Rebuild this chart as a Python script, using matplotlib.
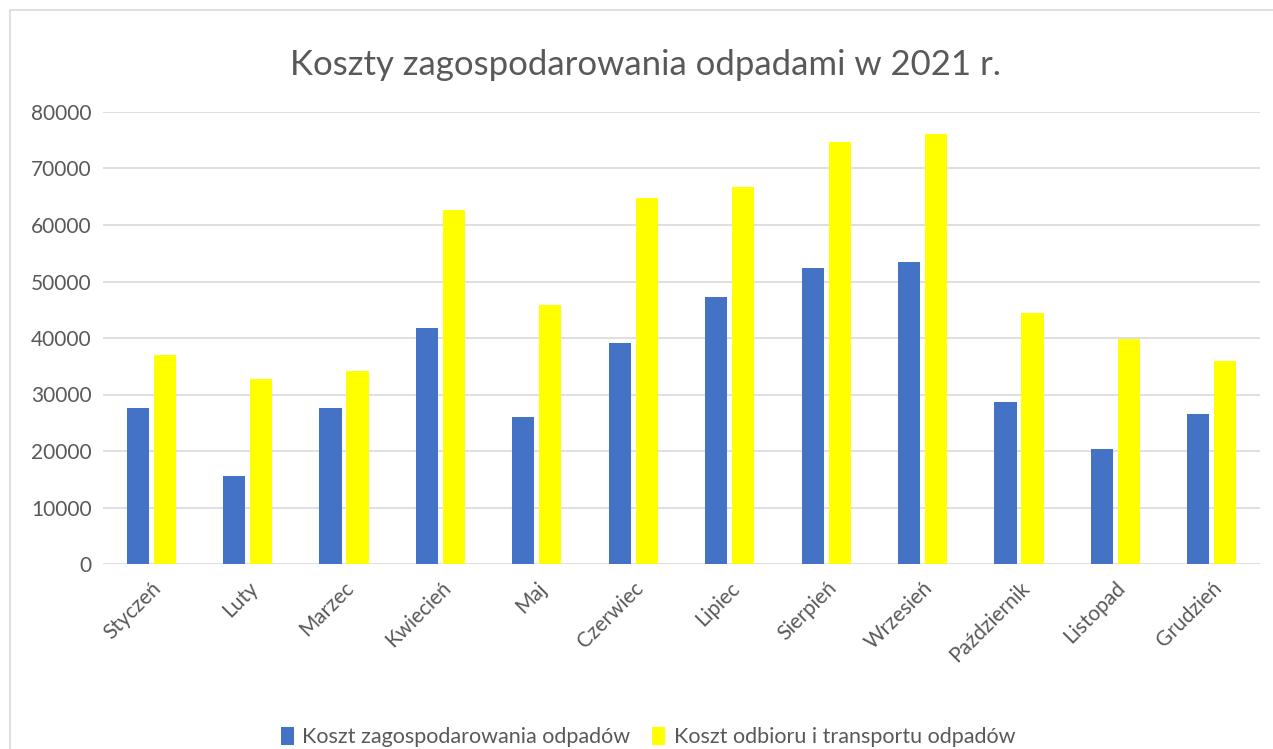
import matplotlib.pyplot as plt
import numpy as np
from matplotlib.patches import Rectangle

# Dane
miesiace = ['Styczeń', 'Luty', 'Marzec', 'Kwiecień', 'Maj', 'Czerwiec', 'Lipiec',
            'Sierpień', 'Wrzesień', 'Październik', 'Listopad', 'Grudzień']
zagospodarowanie = [27550, 15520, 27550, 41710, 25960, 39060, 47200,
                    52330, 53390, 28610, 20290, 26490]
odbior_transport = [36930, 32680, 34100, 62600, 45780, 64720, 66670,
                    74630, 76050, 44370, 39760, 35870]
seria = ['Koszt zagospodarowania odpadów', 'Koszt odbioru i transportu odpadów']

plt.rcParams['font.family'] = ['Lato', 'DejaVu Sans']
szary = '#595959'

fig = plt.figure(figsize=(12.73, 7.49), dpi=100)
W, H = 1273, 749
ax = fig.add_axes([103 / W, 1 - 564 / H, (1260 - 103) / W, (564 - 112) / H])

# ramka wykresu
fig.patches.append(Rectangle((10 / W, -0.1), 1.1, 1 - 10 / H + 0.1,
                             transform=fig.transFigure, fill=False,
                             edgecolor='#d9d9d9', linewidth=1.2))

x = np.arange(len(miesiace))
szer = 0.23
ax.bar(x - 0.14, zagospodarowanie, szer, color='#4472c4', label=seria[0], zorder=3)
ax.bar(x + 0.14, odbior_transport, szer, color='#ffff00', label=seria[1], zorder=3)

ax.set_xlim(-0.5, len(miesiace) - 0.5)
ax.set_ylim(0, 80000)
ax.set_yticks(range(0, 80001, 10000))
ax.grid(axis='y', color='#d9d9d9', linewidth=1.2, zorder=0)
for s in ax.spines.values():
    s.set_visible(False)
ax.tick_params(axis='both', length=0, labelsize=15, colors=szary, pad=8)
ax.tick_params(axis='x', pad=10)
ax.set_xticks(x)
ax.set_xticklabels(miesiace, rotation=45, ha='right', rotation_mode='anchor')

fig.text(645 / W, 1 - 65 / H, 'Koszty zagospodarowania odpadami w 2021 r.',
         ha='center', va='center', fontsize=25, color=szary)

fig.legend(loc='center', bbox_to_anchor=(648 / W, 1 - 737 / H), ncol=2,
           frameon=False, fontsize=15.5, labelcolor=szary,
           handlelength=0.6, handleheight=0.9, handletextpad=0.4, columnspacing=1.0)

fig.savefig('out.png', dpi=100)
